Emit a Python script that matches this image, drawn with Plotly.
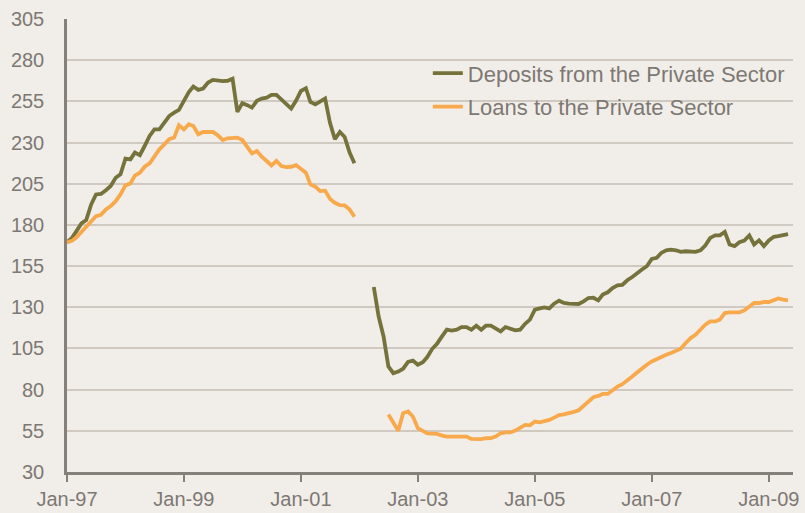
import plotly.graph_objects as go
import pandas as pd

months = pd.date_range("1997-01-01", "2009-05-01", freq="MS")

deposits_a = [169.5,172.1,176.2,180.9,182.9,192.4,198.5,198.8,201.1,203.6,208.6,210.7,
              220.2,219.8,223.9,222.3,227.9,234.0,238.0,238.0,242.1,246.1,248.2,249.8,
              255.3,260.7,264.0,262.0,262.8,266.4,268.0,267.5,267.3,267.5,268.8,248.6,
              253.9,252.7,251.2,255.3,256.7,257.3,258.9,258.9,255.9,253.2,250.6,255.3,
              261.3,263.0,254.7,253.2,254.9,256.7,242.1,232.0,236.4,233.4,223.9,217.4]
deposits_b = [142.3,124.5,112.3,94.1,90.0,91.0,92.7,96.9,97.7,95.1,96.7,99.8,104.8,107.9,
              112.3,116.4,115.8,116.4,118.0,118.0,116.4,118.8,116.4,118.8,118.8,117.0,115.3,
              118.0,117.0,116.0,116.4,120.0,122.5,128.5,129.3,129.9,129.3,132.2,134.0,132.6,
              132.2,132.0,132.0,133.6,135.6,135.8,134.2,137.7,139.1,141.7,143.3,143.6,146.4,
              148.4,150.9,152.9,154.9,159.4,160.0,163.0,164.6,165.0,164.6,163.6,164.0,164.0,
              163.6,164.6,167.5,172.1,173.7,173.7,175.8,168.1,167.1,169.5,170.5,173.6,168.1,
              170.6,167.1,170.6,172.8,173.2,173.6,174.4]
loans_a = [169.5,170.3,172.5,175.8,178.2,182.3,185.3,186.1,189.4,191.4,194.4,198.5,
           204.0,205.2,209.9,211.7,215.3,217.4,221.8,225.9,228.9,232.0,233.0,240.5,
           238.0,241.1,240.0,235.0,236.4,236.4,236.4,234.4,231.5,232.6,233.0,233.0,
           231.5,227.5,223.4,224.8,221.4,218.8,216.1,218.8,215.7,215.1,215.3,216.3,
           214.1,211.7,204.6,203.2,200.5,200.8,195.9,193.4,192.0,191.8,189.4,184.9]
loans_b = [64.9,60.0,55.1,65.7,66.7,63.7,56.6,55.0,53.5,53.3,53.1,52.1,51.5,51.5,51.5,
           51.5,51.5,50.1,50.0,50.0,50.5,50.6,51.5,53.5,54.0,54.0,55.1,56.6,58.6,58.3,
           60.6,60.1,60.6,61.6,63.0,64.5,65.0,65.5,66.5,67.5,70.0,73.0,75.4,76.2,77.4,
           77.4,79.9,81.9,83.3,85.4,88.0,90.4,93.1,95.1,97.1,98.6,100.1,101.2,102.2,103.6,
           104.8,108.3,111.3,113.3,116.4,119.4,121.4,121.4,122.5,126.5,126.9,126.9,126.9,
           128.1,130.2,132.6,132.6,133.2,133.2,134.6,135.4,134.6,134.2]

deposits = deposits_a + [None] * 3 + deposits_b
loans = loans_a + [None] * 6 + loans_b

y_ticks = [30, 55, 80, 105, 130, 155, 180, 205, 230, 255, 280, 305]

BG = "#f1eeea"
AXIS = "#858079"
GRID = "#d0c9c2"
TXT = "#7d7873"
FONT = "Liberation Sans, Arial, sans-serif"

fig = go.Figure()
fig.add_trace(go.Scatter(x=months, y=deposits, mode="lines", name="Deposits from the Private Sector",
                         line=dict(color="#75723b", width=3.8), connectgaps=False, legendgroup="d"))
fig.add_trace(go.Scatter(x=months, y=loans, mode="lines", name="Loans to the Private Sector",
                         line=dict(color="#f8a94b", width=3.8), connectgaps=False, legendgroup="l"))

fig.update_layout(
    width=805, height=513,
    margin=dict(l=67, r=12, t=19, b=41),
    paper_bgcolor=BG, plot_bgcolor=BG,
    font=dict(family=FONT, color=TXT, size=20),
    legend=dict(x=0.497, y=0.9266, xanchor="left", yanchor="top",
                bgcolor="rgba(0,0,0,0)", font=dict(size=22, color=TXT),
                tracegroupgap=2, traceorder="grouped"),
    showlegend=True,
)
fig.update_xaxes(
    type="date", range=["1997-01-01", "2009-06-01"],
    tick0="1997-01-01", dtick="M24", tickformat="%b-%y",
    showgrid=False, showline=True, linecolor=AXIS, linewidth=2.5,
    ticks="outside", ticklen=7, tickwidth=2, tickcolor=AXIS,
    tickfont=dict(size=20, color=TXT), zeroline=False, automargin=False,
)
fig.update_yaxes(
    range=[30, 305], tickvals=y_ticks, showgrid=True, gridcolor=GRID, gridwidth=1.5,
    showline=True, linecolor=AXIS, linewidth=2.5, ticks="", ticklabelstandoff=16,
    tickfont=dict(size=20, color=TXT), zeroline=False, automargin=False,
)

fig.write_html(
    "out.html",
    config={"displayModeBar": False},
    post_script="document.body.style.margin='0';document.body.style.background='%s';" % BG,
)
